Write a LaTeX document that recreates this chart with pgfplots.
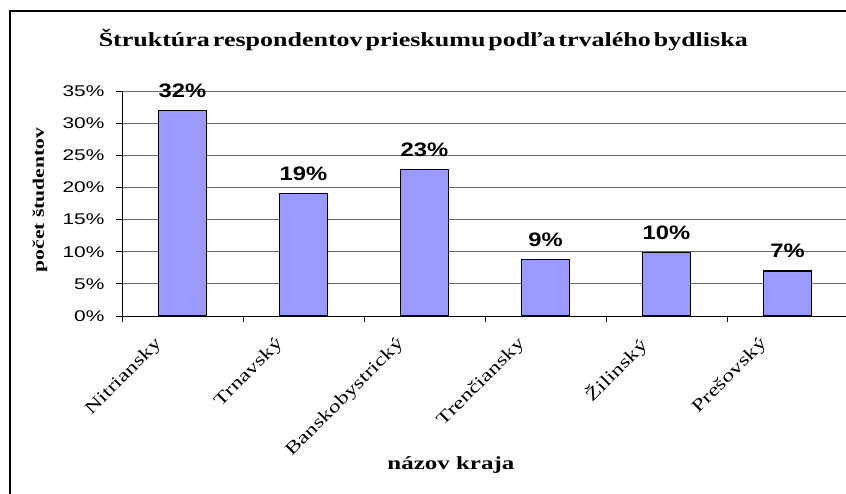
\documentclass[border=0pt]{standalone}
\usepackage{fontspec}
\setmainfont{Liberation Serif}
\setsansfont{Liberation Sans}
\newfontfamily\ticksans{Liberation Sans}[FakeStretch=1.35]
\newfontfamily\lblsans{Liberation Sans}[FakeStretch=1.22]
\newfontfamily\serifst{Liberation Serif}[FakeStretch=1.35]
\newfontfamily\titleserif{Liberation Serif}[FakeStretch=1.3,WordSpace=0.45]
\usepackage{pgfplots}
\pgfplotsset{compat=1.18}
\definecolor{barblue}{HTML}{9999FF}
\pgfplotstableread{
x y lab
0 32.0 32
1 19.1 19
2 22.8 23
3 8.8 9
4 9.9 10
5 7.0 7
}\datatab
\begin{document}
\begin{tikzpicture}[x=1pt,y=1pt]
\begin{axis}[
  name=ax,
  scale only axis, width=726pt, height=225pt,
  xmin=-0.5, xmax=5.5, ymin=0, ymax=35,
  axis x line*=bottom, axis y line*=left,
  axis line style={line width=0.9pt, -},
  tick align=outside,
  major tick length=6pt,
  tick style={line width=0.9pt, black},
  /pgf/number format/assume math mode=true,
  xtick={-0.5,0.5,...,5.5},
  x tick label as interval,
  xticklabels={Nitriansky,Trnavský,Banskobystrický,Trenčiansky,Žilinský,Prešovský},
  xticklabel style={xshift=-29pt, yshift=-9pt, rotate=45, anchor=north east, font=\fontsize{17.5}{19}\serifst},
  ytick={0,5,...,35},
  yticklabels={0\%,5\%,10\%,15\%,20\%,25\%,30\%,35\%},
  yticklabel style={font=\fontsize{15.5}{18}\ticksans, xshift=-8pt},
  ymajorgrids,
  grid style={line width=0.8pt, gray!85!black},
  title={Štruktúra respondentov prieskumu podľa trvalého bydliska},
  title style={at={(axis description cs:0.415,1.2)}, anchor=center, font=\fontsize{20}{22}\titleserif\bfseries},
  xlabel={názov kraja},
  xlabel style={at={(axis description cs:0.453,-0.662)}, anchor=center, font=\fontsize{18.5}{20}\serifst\bfseries},
  ylabel={počet študentov},
  ylabel style={at={(axis description cs:-0.113,0.516)}, anchor=center, font=\fontsize{16}{18}\serifst\bfseries},
  clip=false,
]
\addplot[ybar, bar width=48pt, fill=barblue, draw=black, line width=1.2pt,
  point meta=explicit,
  nodes near coords={\pgfmathprintnumber[fixed,precision=0]{\pgfplotspointmeta}\%},
  every node near coord/.append style={anchor=south, yshift=9pt, font=\fontsize{19.5}{20}\lblsans\bfseries, black}]
  table[x=x, y=y, meta=lab]{\datatab};
\end{axis}
\draw[line width=1.6pt] ([shift={(-112pt,-190pt)}]ax.south west) -- ([shift={(-112pt,305pt)}]ax.south west) -- ([shift={(740pt,305pt)}]ax.south west);
\pgfresetboundingbox
\useasboundingbox ([shift={(-122pt,-177pt)}]ax.south west) rectangle ([shift={(724pt,316pt)}]ax.south west);
\end{tikzpicture}
\end{document}
